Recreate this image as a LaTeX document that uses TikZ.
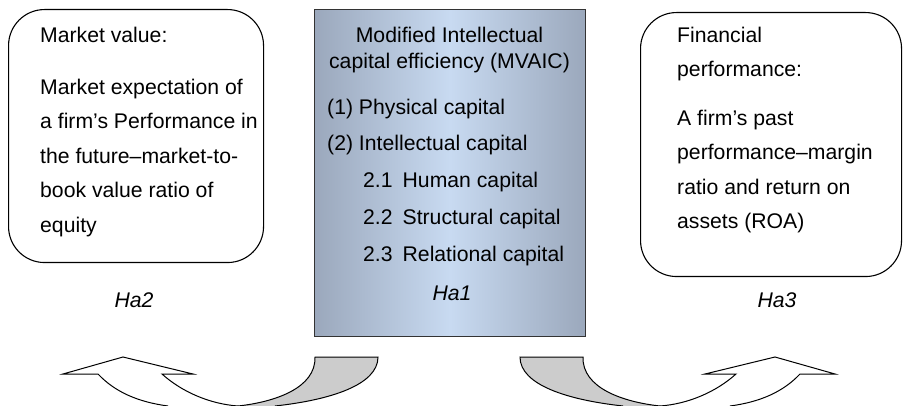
\documentclass[tikz,border=0pt]{standalone}
\usepackage{fontspec}
\setmainfont{Liberation Sans}
\definecolor{capedge}{HTML}{9BA8BC}
\definecolor{capmid}{HTML}{C8DAF1}
\definecolor{backside}{HTML}{CCCCCC}
\newcommand\curvedarrow{%
  \fill[backside] (238,406) .. controls (275,402) and (316,388) .. (315,357)
    -- (378,357) .. controls (378,385) and (330,400) .. (275,406) -- cycle;
  \draw[band] (238,406) .. controls (275,402) and (316,388) .. (315,357)
    -- (378,357) .. controls (378,385) and (330,400) .. (275,406);
  \draw[band] (168,406) .. controls (138,402) and (115,392) .. (98,374)
    -- (63,374) -- (123,357) -- (193,374) -- (162,374)
    .. controls (182,392) and (210,404) .. (238,406);
}
\begin{document}
\begin{tikzpicture}[x=1pt, y=-1pt,
  roundbox/.style={draw, line width=1.1pt, rounded corners=36pt, inner sep=0pt, anchor=north west},
  capbox/.style={draw=black!80, line width=1pt, left color=capedge, right color=capedge, middle color=capmid, inner sep=0pt, anchor=north west},
  boxtext/.style={inner sep=0pt, align=left, anchor=north west, font=\fontsize{21.2}{34.5}\selectfont},
  hlabel/.style={inner sep=0pt, font=\fontsize{21.2}{24}\selectfont\itshape},
  band/.style={line width=1pt, line join=miter}]
  \useasboundingbox (0,0) rectangle (903,406);

  \node (mv) [roundbox, minimum width=255pt, minimum height=253pt] at (8,9) {};
  \node (mvaic) [capbox, minimum width=271pt, minimum height=327pt] at (314,9) {};
  \node (fp) [roundbox, minimum width=261pt, minimum height=264pt] at (640,12) {};

  \node (mvtext) [boxtext] at (40,27) {Market value:\\[17pt]
    Market expectation of\\ a firm’s Performance in\\ the future–market-to-\\
    book value ratio of\\ equity};
  \node (captitle) [boxtext, align=center, anchor=north, font=\fontsize{21.2}{26.5}\selectfont]
    at (449.5,26.5) {Modified Intellectual\\ capital efficiency (MVAIC)};
  \node (caplist) [boxtext, font=\fontsize{21.2}{36.8}\selectfont] at (327,98.5)
    {(1) Physical capital\\ (2) Intellectual capital\\
     \hspace*{36pt}2.1\hspace{10pt}Human capital\\
     \hspace*{36pt}2.2\hspace{10pt}Structural capital\\
     \hspace*{36pt}2.3\hspace{10pt}Relational capital};
  \node (fptext) [boxtext] at (677,26.5) {Financial\\ performance:\\[14pt]
    A firm’s past\\ performance–margin\\ ratio and return on\\ assets (ROA)};

  \node (ha1) [hlabel] at (452,293) {Ha1};
  \node (ha2) [hlabel] at (134,300) {Ha2};
  \node (ha3) [hlabel] at (777,300) {Ha3};

  \curvedarrow
  \begin{scope}[shift={(898,0)}, xscale=-1]
    \curvedarrow
  \end{scope}
\end{tikzpicture}
\end{document}
